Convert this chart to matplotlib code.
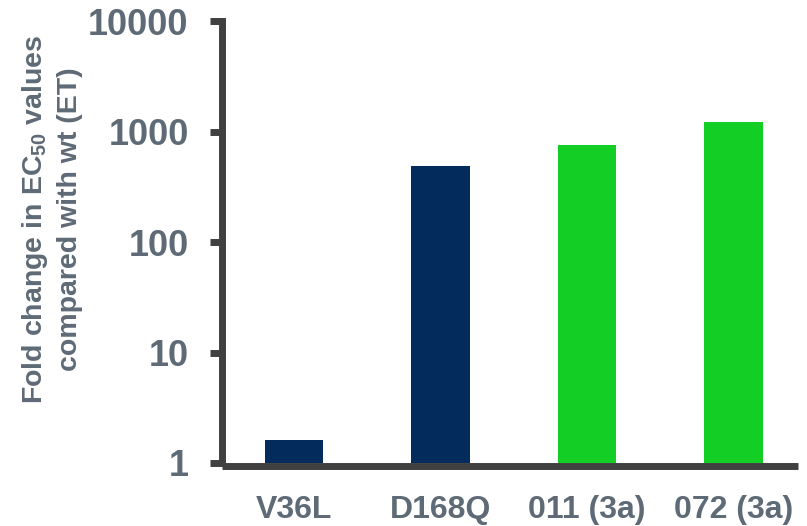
import matplotlib
matplotlib.use("Agg")
import matplotlib.pyplot as plt
from matplotlib.ticker import FixedLocator, NullLocator

# Fold change in EC50 per variant
variants = ["V36L", "D168Q", "011 (3a)", "072 (3a)"]
fold_change = [1.6, 490, 755, 1220]
bar_colors = ["#032C5D", "#032C5D", "#12CE25", "#12CE25"]

y_ticks = [1, 10, 100, 1000, 10000]
y_tick_labels = ["1", "10", "100", "1000", "10000"]

plt.rcParams["font.family"] = ["Liberation Sans", "DejaVu Sans"]
plt.rcParams["mathtext.fontset"] = "custom"
plt.rcParams["mathtext.rm"] = "Liberation Sans:bold"
plt.rcParams["mathtext.it"] = "Liberation Sans:bold"
plt.rcParams["mathtext.bf"] = "Liberation Sans:bold"

text_color = "#5E6A75"
axis_color = "#404040"

fig = plt.figure(figsize=(8.07, 5.26), dpi=100)
ax = fig.add_axes([222 / 807, 1 - 463 / 526, (798 - 222) / 807, (463 - 21) / 526])

x = list(range(len(variants)))
ax.bar(x, fold_change, width=0.4, color=bar_colors, bottom=0)
ax.set_yscale("log")
ax.set_ylim(1, 10000)
ax.set_xlim(-0.49, 3.44)

ax.yaxis.set_major_locator(FixedLocator(y_ticks))
ax.yaxis.set_minor_locator(NullLocator())
ax.set_yticklabels(y_tick_labels)
ax.set_xticks(x)
ax.set_xticklabels(variants)

for side in ("top", "right"):
    ax.spines[side].set_visible(False)
for side in ("left", "bottom"):
    ax.spines[side].set_color(axis_color)
    ax.spines[side].set_linewidth(5.0)
ax.spines["bottom"].set_position(("outward", 2))
ax.spines["left"].set_capstyle("projecting")
ax.spines["bottom"].set_capstyle("butt")

ax.tick_params(axis="y", which="major", direction="out", length=9, width=5,
               color=axis_color, pad=15, labelsize=26, labelcolor=text_color)
ax.tick_params(axis="x", which="major", length=0, pad=21, labelsize=23,
               labelcolor=text_color)
for lbl in ax.get_yticklabels() + ax.get_xticklabels():
    lbl.set_fontweight("bold")

ax.set_ylabel("Fold change in EC$_{50}$ values\ncompared with wt (ET)",
              fontsize=20.5, fontweight="bold", color=text_color,
              linespacing=1.35)
ax.yaxis.set_label_coords(-0.242, 0.552)

fig.savefig("out.png", dpi=100)
